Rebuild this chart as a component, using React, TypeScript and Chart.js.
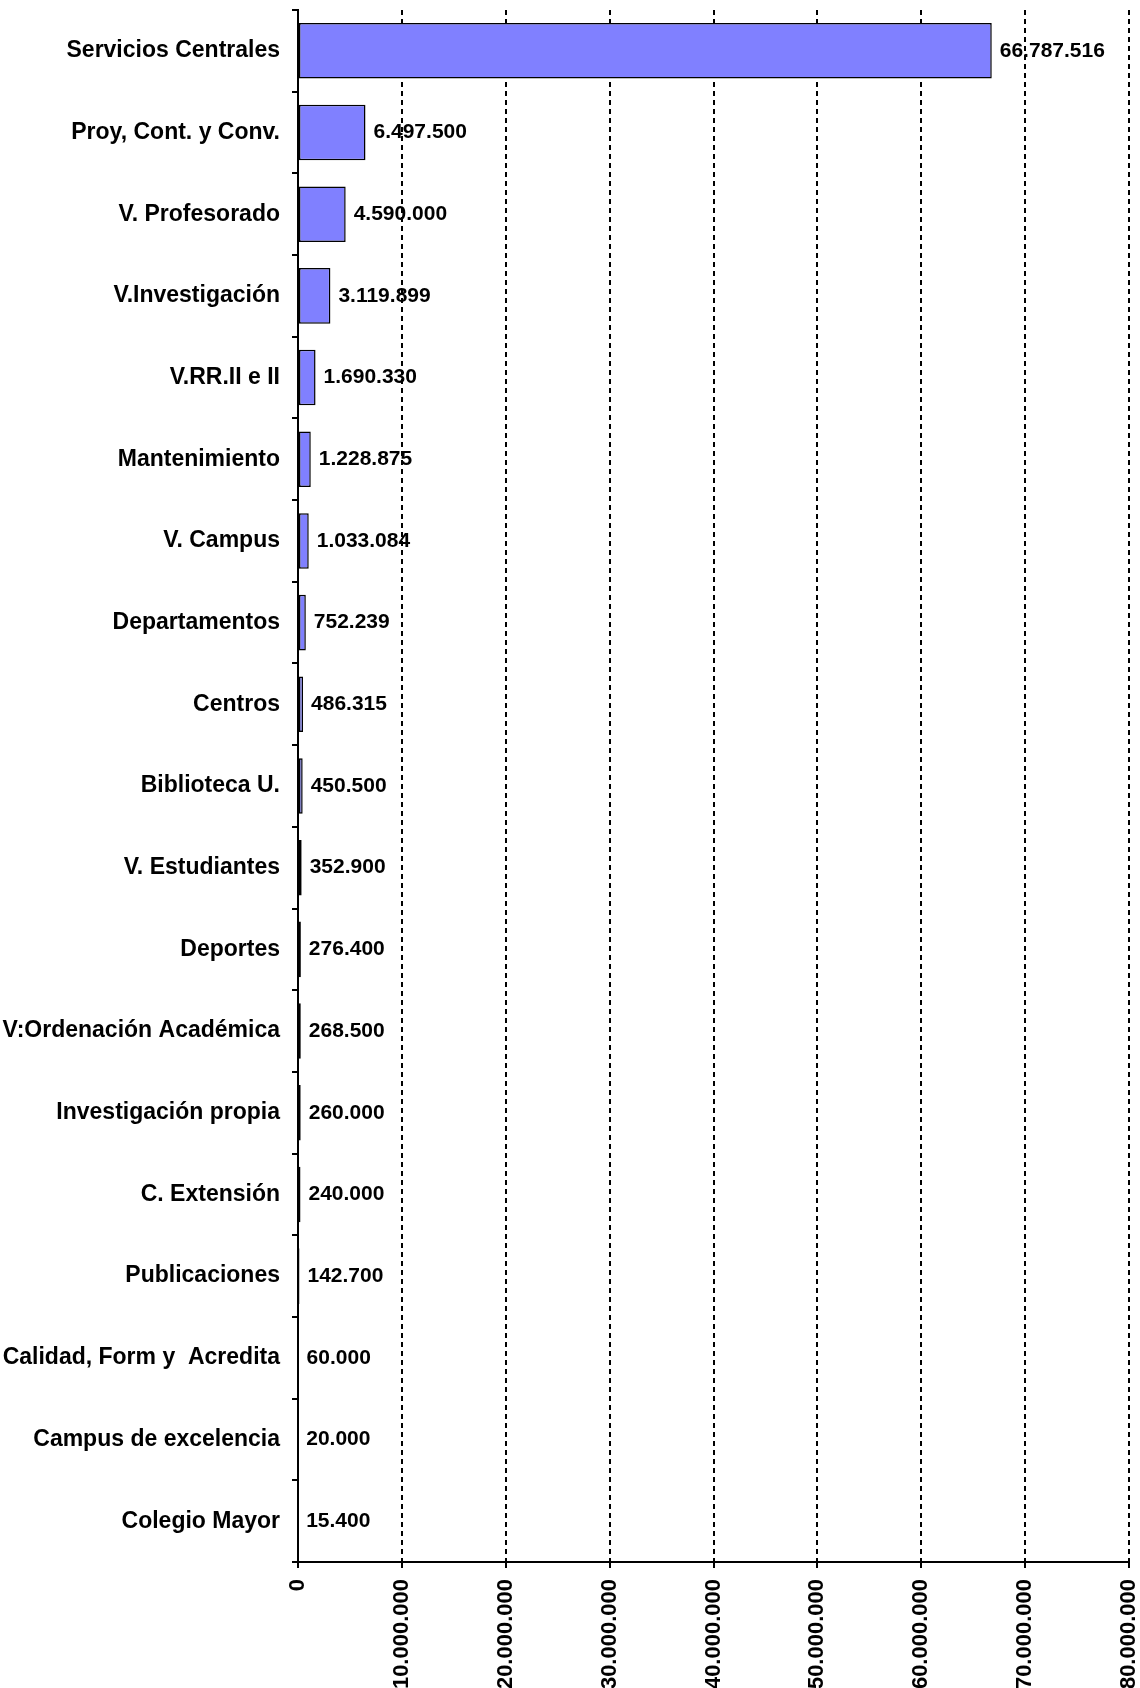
import React, { useEffect, useRef } from "react";
import { Chart, registerables } from "chart.js";

Chart.register(...registerables);

const categories: string[] = [
  "Servicios Centrales",
  "Proy, Cont. y Conv.",
  "V. Profesorado",
  "V.Investigación",
  "V.RR.II e II",
  "Mantenimiento",
  "V. Campus",
  "Departamentos",
  "Centros",
  "Biblioteca U.",
  "V. Estudiantes",
  "Deportes",
  "V:Ordenación Académica",
  "Investigación propia",
  "C. Extensión",
  "Publicaciones",
  "Calidad, Form y  Acredita",
  "Campus de excelencia",
  "Colegio Mayor",
];

const values: number[] = [
  66787516, 6497500, 4590000, 3119899, 1690330, 1228875, 1033084, 752239,
  486315, 450500, 352900, 276400, 268500, 260000, 240000, 142700, 60000,
  20000, 15400,
];

const axisMin = 0;
const axisMax = 80000000;
const axisStep = 10000000;

const FONT = "'Liberation Sans', Arial, sans-serif";

function fmt(n: number): string {
  return Math.round(n)
    .toString()
    .replace(/\B(?=(\d{3})+(?!\d))/g, ".");
}

const labelPlugin = {
  id: "valueLabels",
  beforeDraw(chart: any) {
    const ctx = chart.ctx;
    const meta = chart.getDatasetMeta(0);
    ctx.save();
    ctx.font = `bold 21px ${FONT}`;
    ctx.fillStyle = "#000";
    ctx.textAlign = "left";
    ctx.textBaseline = "middle";
    meta.data.forEach((bar: any, i: number) => {
      const v = chart.data.datasets[0].data[i];
      ctx.fillText(fmt(v), bar.x + 8, bar.y);
    });
    ctx.restore();
  },
};

export default function App() {
  const ref = useRef<HTMLCanvasElement | null>(null);

  useEffect(() => {
    if (!ref.current) return;
    const chart = new Chart(ref.current, {
      type: "bar",
      data: {
        labels: categories,
        datasets: [
          {
            data: values,
            backgroundColor: "#8080FF",
            borderColor: "#000000",
            borderWidth: 1.5,
            borderSkipped: false,
            categoryPercentage: 1,
            barPercentage: 0.68,
          },
        ],
      },
      options: {
        indexAxis: "y",
        animation: false,
        responsive: true,
        maintainAspectRatio: false,
        layout: { padding: 0 },
        plugins: {
          legend: { display: false },
          tooltip: { enabled: false },
          title: { display: false },
        },
        scales: {
          x: {
            type: "linear",
            min: axisMin,
            max: axisMax,
            afterFit(scale: any) {
              scale.height = 126;
              scale.paddingLeft = 0;
              scale.paddingRight = 11;
            },
            ticks: {
              stepSize: axisStep,
              minRotation: 90,
              maxRotation: 90,
              padding: 11,
              color: "#000",
              font: { family: FONT, size: 22, weight: "bold" },
              callback: (v: any) => fmt(Number(v)),
            },
            grid: {
              color: (c: any) =>
                c.tick && c.tick.value === 0 ? "rgba(0,0,0,0)" : "#000",
              lineWidth: 2,
              tickLength: 6,
              tickColor: "#000",
              tickBorderDash: [],
            },
            border: { display: true, color: "#000", width: 2, dash: [5, 4] },
          },
          y: {
            type: "category",
            afterFit(scale: any) {
              scale.width = 298;
              scale.paddingTop = 10;
              scale.paddingBottom = 0;
            },
            ticks: {
              padding: 12,
              color: "#000",
              autoSkip: false,
              font: { family: FONT, size: 23, weight: "bold" },
            },
            grid: {
              offset: true,
              drawOnChartArea: false,
              color: "#000",
              lineWidth: 2,
              tickLength: 6,
            },
            border: { display: true, color: "#000", width: 2 },
          },
        },
      },
      plugins: [labelPlugin],
    });
    return () => chart.destroy();
  }, []);

  return (
    <div
      style={{
        position: "absolute",
        left: 0,
        top: 0,
        width: 1140,
        height: 1688,
        background: "#fff",
      }}
    >
      <canvas ref={ref} />
    </div>
  );
}
